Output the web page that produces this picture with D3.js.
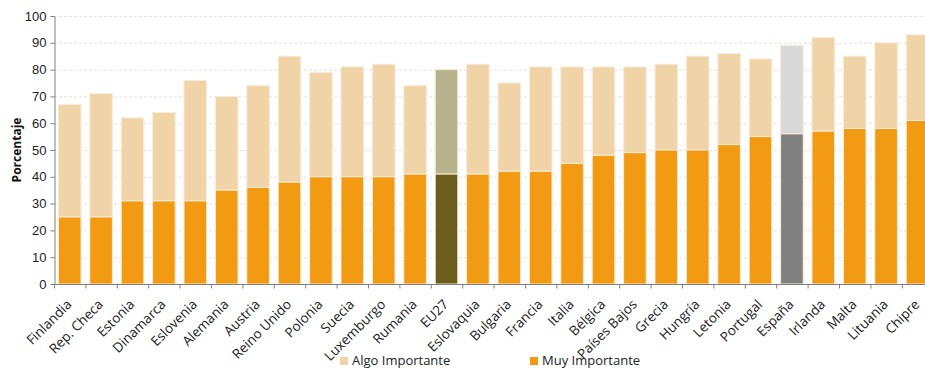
<!DOCTYPE html>
<html>
<head>
<meta charset="utf-8">
<script src="https://d3js.org/d3.v7.min.js"></script>
<style>
body { margin: 0; background: #fff; }
svg { font-family: "Open Sans", sans-serif; }
.tick text { fill: #222; }
</style>
</head>
<body>
<script>
// countries, sorted by "muy importante"
var countries = ["Finlandia", "Rep. Checa", "Estonia", "Dinamarca", "Eslovenia", "Alemania", "Austria",
    "Reino Unido", "Polonia", "Suecia", "Luxemburgo", "Rumania", "EU27", "Eslovaquia", "Bulgaria",
    "Francia", "Italia", "Bélgica", "Países Bajos", "Grecia", "Hungría", "Letonia", "Portugal",
    "España", "Irlanda", "Malta", "Lituania", "Chipre"];
var muyImportante = [25, 25, 31, 31, 31, 35, 36, 38, 40, 40, 40, 41, 41, 41, 42, 42, 45, 48, 49, 50, 50, 52, 55, 56, 57, 58, 58, 61];
// total (muy + algo) as read at the bar tops
var total = [67, 71, 62, 64, 76, 70, 74, 85, 79, 81, 82, 74, 80, 82, 75, 81, 81, 81, 81, 82, 85, 86, 84, 89, 92, 85, 90, 93];
var yTicks = [0, 10, 20, 30, 40, 50, 60, 70, 80, 90, 100];

var colors = {
    muy: "#f29a12", algo: "#f0d4a8",
    EU27: {muy: "#6b5e1a", algo: "#b6b28c"},
    "España": {muy: "#808080", algo: "#d9d9d9"}
};

var width = 925, height = 369;
var margin = {top: 16, left: 54};
var plotH = 268;

var svg = d3.select("body").append("svg")
    .attr("width", width)
    .attr("height", height);

var data = countries.map(function(c, i) {
    return {name: c, muy: muyImportante[i], algo: total[i] - muyImportante[i]};
});

var x = d3.scaleBand()
    .domain(countries)
    .range([margin.left, margin.left + 28 * 31.4])
    .paddingInner(0.28)
    .paddingOuter(0.14);

var y = d3.scaleLinear()
    .domain([0, 100])
    .range([margin.top + plotH, margin.top]);

// gridlines
svg.append("g").selectAll("line")
    .data(yTicks.slice(1))
  .enter().append("line")
    .attr("x1", margin.left).attr("x2", width)
    .attr("y1", function(d) { return y(d) + 0.5 })
    .attr("y2", function(d) { return y(d) + 0.5 })
    .style("stroke", "#e2e2e2")
    .style("stroke-dasharray", "3,2");

function col(d, key) {
    return colors[d.name] ? colors[d.name][key] : colors[key];
}

var bars = svg.append("g").selectAll("g")
    .data(data)
  .enter().append("g");

bars.append("rect")
    .attr("x", function(d) { return x(d.name) })
    .attr("width", x.bandwidth())
    .attr("y", function(d) { return y(d.muy + d.algo) })
    .attr("height", function(d) { return y(d.muy) - y(d.muy + d.algo) })
    .style("fill", function(d) { return col(d, "algo") })
    .style("stroke", "#f8ecd8")
    .style("stroke-width", 1);

bars.append("rect")
    .attr("x", function(d) { return x(d.name) })
    .attr("width", x.bandwidth())
    .attr("y", function(d) { return y(d.muy) })
    .attr("height", function(d) { return y(0) - y(d.muy) })
    .style("fill", function(d) { return col(d, "muy") })
    .style("stroke", "#f8ecd8")
    .style("stroke-width", 1);

// y axis
var yAxis = d3.axisLeft(y).tickValues(yTicks).tickSize(4).tickSizeOuter(0);
var gy = svg.append("g")
    .attr("transform", "translate(" + (margin.left + 0.5) + ",0)")
    .call(yAxis);
gy.selectAll("text").style("font-size", "13px").attr("x", -8);
gy.selectAll("line, path").style("stroke", "#808080");

// x axis: ticks at category boundaries, labels rotated
var gx = svg.append("g")
    .attr("transform", "translate(0," + (y(0) + 0.5) + ")");
gx.append("line")
    .attr("x1", margin.left).attr("x2", width)
    .style("stroke", "#808080");
gx.selectAll(".bt")
    .data(d3.range(countries.length))
  .enter().append("line")
    .attr("class", "bt")
    .attr("x1", function(i) { return margin.left + i * x.step() + 0.5 })
    .attr("x2", function(i) { return margin.left + i * x.step() + 0.5 })
    .attr("y1", 0).attr("y2", 4)
    .style("stroke", "#808080");
gx.selectAll(".lbl")
    .data(countries)
  .enter().append("text")
    .attr("class", "lbl")
    .attr("transform", function(d) {
        return "translate(" + (x(d) + x.bandwidth() / 2 - 4) + ",14) rotate(-45)";
    })
    .attr("dy", "0.71em")
    .style("text-anchor", "end")
    .style("font-size", "13.5px")
    .style("fill", "#222")
    .text(function(d) { return d });

svg.append("text")
    .attr("transform", "translate(21," + (margin.top + plotH / 2) + ") rotate(-90)")
    .style("text-anchor", "middle")
    .style("font-size", "12px")
    .style("font-weight", "bold")
    .style("fill", "#111")
    .text("Porcentaje");

// legend
var legend = [{label: "Algo Importante", color: colors.algo, x: 340},
              {label: "Muy Importante", color: colors.muy, x: 530}];
var lg = svg.append("g").selectAll("g")
    .data(legend)
  .enter().append("g")
    .attr("transform", function(d) { return "translate(" + d.x + ",356)" });
lg.append("rect")
    .attr("y", 1)
    .attr("width", 8).attr("height", 8)
    .style("fill", function(d) { return d.color });
lg.append("text")
    .attr("x", 12).attr("y", 9)
    .style("font-size", "13px")
    .style("fill", "#222")
    .text(function(d) { return d.label });
</script>
</body>
</html>
